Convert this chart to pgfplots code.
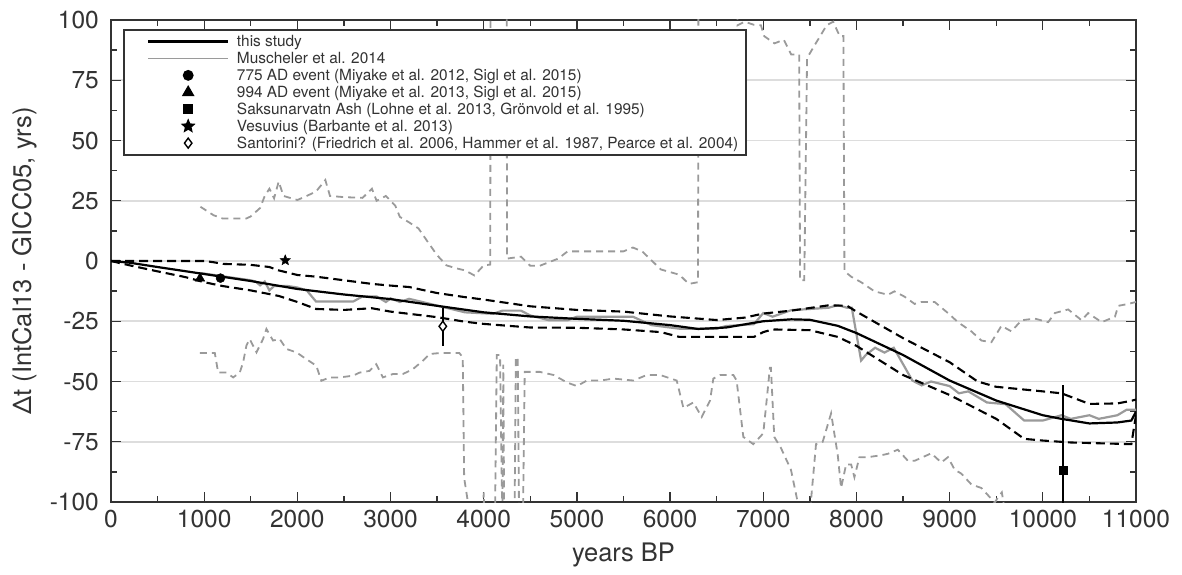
\documentclass[border=0pt]{standalone}
\usepackage{fontspec}
\setmainfont{TeX Gyre Heros}
\usepackage{pgfplots}
\pgfplotsset{compat=1.18}
\definecolor{txt}{HTML}{333333}
\definecolor{gr}{HTML}{9A9A9A}
\definecolor{gridc}{HTML}{DDDDDD}
\pgfdeclareplotmark{fstar}{%
  \pgfpathmoveto{\pgfpointpolar{90}{\pgfplotmarksize}}%
  \pgfpathlineto{\pgfpointpolar{126}{0.45\pgfplotmarksize}}%
  \pgfpathlineto{\pgfpointpolar{162}{\pgfplotmarksize}}%
  \pgfpathlineto{\pgfpointpolar{198}{0.45\pgfplotmarksize}}%
  \pgfpathlineto{\pgfpointpolar{234}{\pgfplotmarksize}}%
  \pgfpathlineto{\pgfpointpolar{270}{0.45\pgfplotmarksize}}%
  \pgfpathlineto{\pgfpointpolar{306}{\pgfplotmarksize}}%
  \pgfpathlineto{\pgfpointpolar{342}{0.45\pgfplotmarksize}}%
  \pgfpathlineto{\pgfpointpolar{18}{\pgfplotmarksize}}%
  \pgfpathlineto{\pgfpointpolar{54}{0.45\pgfplotmarksize}}%
  \pgfpathclose\pgfusepathqfillstroke}
\pgfplotsset{
  linelegend/.style={legend image code/.code={\path (0pt,-4pt) (96pt,4pt); \draw[##1] (16pt,0pt) -- (96pt,0pt);}},
  marklegend/.style={legend image code/.code={\path (0pt,-4pt) (96pt,4pt); \draw[##1] plot coordinates {(56pt,0pt)};}},
  bdash/.style={black, line width=2.1pt, dash pattern=on 9pt off 5pt},
  gdash/.style={gr, line width=1.8pt, dash pattern=on 7pt off 5pt},
}
\begin{document}
\begin{tikzpicture}
\begin{axis}[
  at={(0pt,0pt)}, anchor=south west,
  scale only axis, width=1025pt, height=482pt,
  xmin=0, xmax=11000, ymin=-100, ymax=100,
  scaled x ticks=false, scaled y ticks=false,
  xtick={0,1000,2000,3000,4000,5000,6000,7000,8000,9000,10000,11000},
  xticklabels={0,1000,2000,3000,4000,5000,6000,7000,8000,9000,10000,11000},
  ytick={-100,-75,-50,-25,0,25,50,75,100},
  yticklabels={-100,-75,-50,-25,0,25,50,75,100},
  minor x tick num=1, minor y tick num=1,
  tick align=inside,
  major tick length=10pt, minor tick length=6pt,
  tick style={txt, line width=1.3pt},
  axis line style={txt, line width=1.8pt},
  ymajorgrids, major grid style={gridc, line width=1.6pt},
  ticklabel style={font=\fontsize{24.5}{28}\selectfont, text=txt},
  yticklabel style={inner sep=0pt, xshift=-12pt},
  xticklabel style={inner sep=0pt, yshift=-8pt},
  xlabel={years BP},
  ylabel={Δt (IntCal13 - GICC05, yrs)},
  label style={font=\fontsize{25.5}{30}\selectfont, text=txt},
  xlabel style={at={(axis description cs:0.5,-0.085)}, anchor=north, inner sep=0pt},
  ylabel style={at={(axis description cs:-0.0722,0.5)}, anchor=south, inner sep=0pt},
  legend cell align=left,
  legend style={at={(axis description cs:0.0117,0.9813)}, anchor=north west,
    draw=txt, line width=1.8pt, fill=white,
    font=\fontsize{15.4}{18}\selectfont, text=txt,
    inner xsep=7pt, inner ysep=5pt, row sep=3pt, column sep=7pt,
    nodes={inner sep=0.5pt}},
]
% legend images
\addlegendimage{linelegend, black, line width=2.6pt}
\addlegendentry{this study}
\addlegendimage{linelegend, gr, line width=1.3pt}
\addlegendentry{Muscheler et al. 2014}
\addlegendimage{marklegend, only marks, mark=*, mark size=4.5pt, black}
\addlegendentry{775 AD event (Miyake et al. 2012, Sigl et al. 2015)}
\addlegendimage{marklegend, only marks, mark=triangle*, mark size=5.5pt, black}
\addlegendentry{994 AD event (Miyake et al. 2013, Sigl et al. 2015)}
\addlegendimage{marklegend, only marks, mark=square*, mark size=4pt, black}
\addlegendentry{Saksunarvatn Ash (Lohne et al. 2013, Grönvold et al. 1995)}
\addlegendimage{marklegend, only marks, mark=fstar, mark size=5.5pt, black}
\addlegendentry{Vesuvius (Barbante et al. 2013)}
\addlegendimage{marklegend, only marks, mark=diamond*, mark size=5pt, mark options={fill=white, draw=black, line width=1.4pt}}
\addlegendentry{Santorini? (Friedrich et al. 2006, Hammer et al. 1987, Pearce et al. 2004)}

% Muscheler upper bound (gray dashed)
\addplot[gdash, forget plot] coordinates {
(960,22.5) (1100,19) (1200,17.6) (1450,17.6) (1500,18.5) (1600,22) (1650,27) (1700,30) (1750,26) (1800,33) (1850,27)
(2000,25.3) (2100,27) (2200,28.8) (2300,33.6) (2350,27) (2500,26.5) (2700,26.2) (2800,30) (2850,25) (2950,27) (3000,25)
(3050,23) (3100,18.3) (3200,16) (3300,13.5) (3400,7.9) (3500,2.4) (3600,-1.8) (3700,-3) (3800,-3.9) (3900,-6) (4000,-1.8)
(4070,-1.5) (4075,150) (4245,150) (4250,1) (4400,1.8) (4500,-2) (4600,-2) (4800,1) (4900,4) (5500,4) (5600,5.6) (5700,4)
(5800,0.3) (5900,-3.5) (6100,-5.7) (6200,-9.5) (6300,-8.8) (6305,150) (6700,150) (6724,97.8) (6800,99.3) (6900,98)
(6975,97.8) (7010,93.3) (7120,90.3) (7220,91.8) (7300,85.7) (7385,85.7) (7395,-8) (7440,-8) (7470,84.2) (7540,88.8)
(7610,93.3) (7680,97.8) (7750,99.3) (7820,93.3) (7860,93.3) (7871,-4.2) (7943,-6.5) (8050,-8.8) (8194,-12.6) (8337,-14)
(8408,-12.6) (8516,-14.8) (8624,-17.8) (8695,-17) (8839,-17) (8982,-21.6) (9090,-25.4) (9233,-29.2) (9341,-33) (9448,-33.7)
(9556,-26.9) (9663,-29.2) (9771,-24.6) (9914,-23.9) (10057,-25.4) (10129,-21.6) (10272,-20.1) (10416,-24.6) (10487,-21.6)
(10631,-25.4) (10774,-23.1) (10810,-18.6) (10918,-17.8) (11000,-17)
};
% Muscheler lower bound (gray dashed)
\addplot[gdash, forget plot] coordinates {
(954,-38.2) (1114,-38.2) (1150,-46.3) (1239,-46.3) (1311,-48.3) (1382,-46.3) (1418,-42) (1454,-35) (1489,-32.4) (1561,-37.9)
(1632,-32.4) (1668,-28.2) (1739,-33) (1811,-32.4) (1882,-36.5) (1989,-37.9) (2096,-40.7) (2204,-43.5) (2257,-49.7)
(2346,-48.3) (2454,-48.3) (2596,-47.6) (2668,-46.3) (2775,-45.6) (2846,-42.8) (2918,-48.3) (3025,-46.9) (3132,-46.9)
(3239,-44.9) (3346,-41.4) (3418,-38.6) (3525,-38.2) (3739,-38.2) (3775,-40) (3790,-90) (3830,-100) (3900,-110)
(3990,-110) (4000,-96) (4010,-110) (4120,-110) (4140,-39) (4175,-39) (4200,-110) (4210,-43) (4220,-110) (4330,-110)
(4345,-40) (4365,-40) (4380,-110) (4420,-110) (4440,-46) (4500,-46) (4600,-46) (4750,-47.3) (4893,-50.4) (5000,-51.9)
(5107,-49.6) (5250,-49.6) (5393,-48.8) (5607,-49.6) (5750,-47.3) (5893,-47.3) (6071,-49.6) (6143,-61) (6250,-58.7)
(6339,-64.7) (6429,-57.9) (6464,-48.8) (6536,-47.3) (6679,-47.3) (6714,-49.6) (6786,-73) (6893,-76) (7000,-71.5)
(7036,-57.9) (7071,-44.3) (7082,-44.3) (7118,-73) (7190,-77.6) (7297,-86.6) (7369,-100) (7400,-110) (7500,-110)
(7513,-99) (7566,-76) (7638,-75) (7728,-63.2) (7799,-80.4) (7835,-94.2) (7889,-84.4) (7943,-84.4) (7978,-89.7)
(8032,-81.4) (8122,-81.4) (8265,-80.6) (8337,-80) (8444,-78.3) (8552,-82.9) (8624,-82.9) (8803,-79.8) (8910,-83.6)
(8982,-81.4) (9054,-86.6) (9125,-88.2) (9233,-92.7) (9341,-94.2) (9412,-97.2) (9484,-100.3) (9520,-98) (9560,-96)
(9620,-110) (11000,-140)
};
% Muscheler et al. 2014 (gray solid)
\addplot[gr, line width=2.2pt, forget plot] coordinates {
(960,-5) (1500,-8) (1550,-8.5) (1600,-10.1) (1650,-8.5) (1700,-12.2) (1750,-10.4) (1900,-10.4) (2000,-11) (2100,-12.2)
(2200,-16.8) (2600,-16.8) (2700,-14.7) (2850,-14.7) (2950,-17) (3000,-15.5) (3100,-17) (3200,-15.7) (3500,-18.5)
(3800,-21.3) (4100,-21.9) (4200,-20.6) (4400,-20.6) (4500,-22.6) (4700,-24.6) (4900,-24.6) (5000,-23.1) (5600,-23.1)
(5800,-26.6) (6100,-28.1) (6500,-28.1) (6600,-27.0) (6900,-26.2) (7000,-21.6) (7100,-23.1) (7300,-20.4) (7700,-19.4)
(7800,-18.3) (7900,-19.4) (7950,-19.4) (8050,-41.3) (8100,-39) (8200,-36) (8300,-38) (8400,-36) (8500,-42.8)
(8600,-49.6) (8700,-51.6) (8800,-50) (9000,-51.9) (9100,-54.9) (9200,-54.1) (9400,-58.7) (9600,-59.4) (9800,-66.2)
(10000,-66.2) (10200,-64) (10300,-65.5) (10500,-64) (10600,-65.5) (10800,-64) (10900,-61.7) (11000,-61.7)
};
% this study upper bound
\addplot[bdash, forget plot] coordinates {
(0,0) (1000,0) (1100,-0.5) (1200,-1.2) (1500,-1.6) (1700,-2.5) (1800,-3.9) (2000,-5.8) (2200,-6.5) (2500,-8.0)
(2800,-9.5) (3000,-10.2) (3200,-10.8) (3500,-13.3) (3800,-15.0) (4000,-16.0) (4500,-18.8) (5000,-20.3) (5500,-21.0)
(6000,-23.0) (6500,-24.5) (6800,-23.5) (7000,-21.8) (7300,-20.6) (7700,-18.4) (7900,-18.6) (8000,-21.0) (8500,-32.0)
(9000,-42.0) (9300,-50.0) (9500,-52.2) (10000,-54.1) (10200,-54.9) (10500,-59.3) (10800,-59.1) (10950,-58.0) (11000,-57.5)
};
% this study lower bound
\addplot[bdash, forget plot] coordinates {
(0,0) (200,-1.8) (500,-4.3) (800,-6.7) (1000,-8.8) (1200,-10.4) (1500,-12.2) (1800,-14.5) (2000,-17.0) (2200,-19.9)
(2500,-20.3) (2800,-19.6) (3000,-21.0) (3500,-23.3) (3800,-25.2) (4000,-26.1) (4500,-27.6) (5000,-27.7) (5500,-28.4)
(5900,-29.5) (6100,-31.5) (6900,-31.5) (7000,-29.5) (7100,-28.4) (7500,-28.7) (7800,-31.5) (8000,-35.2) (8500,-47.3)
(9000,-55.6) (9500,-65.5) (9800,-73.8) (10000,-74.5) (10300,-75.3) (10950,-76) (11000,-64)
};
% this study
\addplot[black, line width=2.2pt, forget plot] coordinates {
(0,0) (200,-0.7) (500,-2.5) (1000,-5.4) (1500,-8.3) (1800,-10.3) (2000,-11.6) (2500,-13.9) (3000,-15.8) (3500,-18.6)
(4000,-21.3) (4500,-23.0) (5000,-24.0) (5500,-24.8) (6000,-26.6) (6300,-28.2) (6600,-27.6) (7000,-25.0) (7300,-24.2)
(7500,-24.4) (7800,-26.9) (8000,-29.9) (8500,-39) (9000,-49.6) (9500,-57.9) (10000,-64) (10200,-65.5) (10500,-67.4)
(10800,-67.0) (10950,-66.2) (11000,-62.5)
};
% error bars
\addplot[black, line width=2pt, forget plot] coordinates {(3561,-19.6) (3561,-35.1)};
\addplot[black, line width=2pt, forget plot] coordinates {(10215,-51.6) (10215,-120)};
% markers
\addplot[only marks, mark=*, mark size=4.5pt, black, forget plot] coordinates {(1175,-7.1)};
\addplot[only marks, mark=triangle*, mark size=5.5pt, black, forget plot] coordinates {(955,-7.2)};
\addplot[only marks, mark=square*, mark size=4pt, black, forget plot] coordinates {(10215,-86.6)};
\addplot[only marks, mark=fstar, mark size=5.5pt, black, forget plot] coordinates {(1870,0.3)};
\addplot[only marks, mark=diamond*, mark size=5pt, mark options={fill=white, draw=black, line width=1.4pt}, forget plot] coordinates {(3561,-27.1)};
\end{axis}
\pgfresetboundingbox
\path (-111pt,-72pt) rectangle (1071pt,502pt);
\end{tikzpicture}
\end{document}
